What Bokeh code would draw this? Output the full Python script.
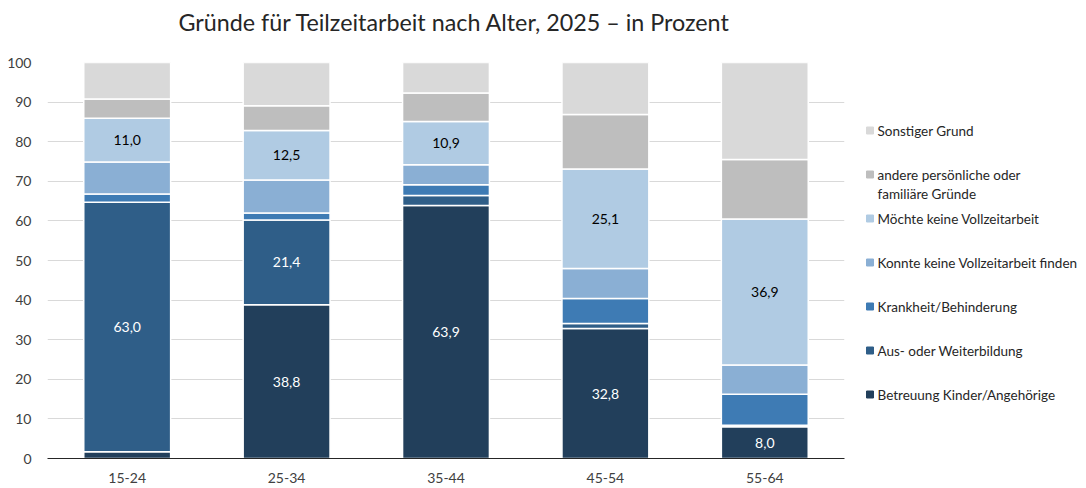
from bokeh.plotting import figure
from bokeh.models import ColumnDataSource, Range1d, FactorRange, FixedTicker, Title
from bokeh.layouts import row
from bokeh.embed import file_html
from bokeh.resources import INLINE
from bokeh.core.properties import value

title = "Gründe für Teilzeitarbeit nach Alter, 2025 – in Prozent"
ages = ["15-24", "25-34", "35-44", "45-54", "55-64"]

# stacked from bottom to top
series_names = [
    "Betreuung Kinder/Angehörige",
    "Aus- oder Weiterbildung",
    "Krankheit/Behinderung",
    "Konnte keine Vollzeitarbeit finden",
    "Möchte keine Vollzeitarbeit",
    "andere persönliche oder\nfamiliäre Gründe",
    "Sonstiger Grund",
]
betreuung = [1.7, 38.8, 63.9, 32.8, 8.0]
ausbildung = [63.0, 21.4, 2.5, 1.3, 0.4]
krankheit = [2.1, 1.8, 2.7, 6.3, 7.8]
konnte = [8.1, 8.3, 5.1, 7.6, 7.4]
moechte = [11.0, 12.5, 10.9, 25.1, 36.9]
andere = [4.9, 6.3, 7.2, 13.8, 15.0]
sonstiger = [9.2, 10.9, 7.7, 13.1, 24.5]

colors = ["#223f5b", "#2f5e88", "#3e7bb4", "#8aafd4", "#b0cbe3", "#bebebe", "#d9d9d9"]
label_series = [0, 1, 4]  # series with data labels (where segment large enough)
label_colors = ["white", "white", "white", "black", "black", "black", "black"]
y_ticks = [0, 10, 20, 30, 40, 50, 60, 70, 80, 90, 100]

FONT = "Lato"
series = [betreuung, ausbildung, krankheit, konnte, moechte, andere, sonstiger]
keys = ["s%d" % i for i in range(len(series))]
data = {"age": ages}
for k, s in zip(keys, series):
    data[k] = s
source = ColumnDataSource(data)

BORDER_TOP = 62
BORDER_BOTTOM = 28
BORDER_LEFT = 47
H = 486
W = 852

p = figure(
    x_range=FactorRange(*ages, range_padding=0),
    y_range=Range1d(0, 100),
    width=W, height=H,
    output_backend="svg", toolbar_location=None,
    min_border_left=BORDER_LEFT, min_border_right=8, min_border_top=BORDER_TOP,
    min_border_bottom=BORDER_BOTTOM,
    title=None,
)
# empty spacer panel between frame and title
p.add_layout(Title(text=" ", text_font_size="2px", standoff=23), "above")
p.add_layout(Title(text=title, text_font=FONT, text_font_size="23.3px",
                   text_font_style="normal", text_color="#262626",
                   align="left", offset=131, standoff=0), "above")
p.outline_line_color = None
p.background_fill_color = "white"

p.vbar_stack(keys, x="age", width=0.545, color=colors, source=source,
             line_color="white", line_width=1.5)

# data labels
lx, ly, lt, lc = [], [], [], []
for i, s in enumerate(series):
    base = [sum(series[j][k] for j in range(i)) for k in range(len(ages))]
    if i in label_series:
        for k, v in enumerate(s):
            if v >= 8:
                lx.append(ages[k])
                ly.append(base[k] + v / 2)
                lt.append(("%.1f" % v).replace(".", ","))
                lc.append(label_colors[i])
p.text(x=lx, y=ly, text=lt, text_color=lc, text_align="center", text_baseline="middle",
       text_font=value(FONT), text_font_size="14px")

p.ygrid.grid_line_color = "#d9d9d9"
p.ygrid.grid_line_width = 1
p.xgrid.grid_line_color = None
p.yaxis.ticker = FixedTicker(ticks=y_ticks)
p.yaxis.axis_line_color = None
p.yaxis.major_tick_line_color = None
p.yaxis.minor_tick_line_color = None
p.yaxis.major_label_standoff = 10
p.xaxis.axis_line_color = "#262626"
p.xaxis.axis_line_width = 1
p.xaxis.major_tick_line_color = None
p.xaxis.major_label_standoff = 8
for ax in (p.xaxis, p.yaxis):
    ax.major_label_text_font = FONT
    ax.major_label_text_font_size = "14px"
    ax.major_label_text_color = "#404040"

# legend panel: its frame is aligned with the main frame by the row layout,
# so its y range spans the same pixel rows as the main frame (top -> bottom)
frame_top = BORDER_TOP + 1
frame_bottom = H - BORDER_BOTTOM + 1
lg = figure(width=230, height=H, x_range=Range1d(0, 230),
            y_range=Range1d(frame_bottom, frame_top),
            output_backend="svg", toolbar_location=None,
            min_border_left=0, min_border_right=0,
            min_border_top=BORDER_TOP, min_border_bottom=BORDER_BOTTOM)
lg.axis.visible = False
lg.grid.visible = False
lg.outline_line_color = None
order = list(range(len(series_names)))[::-1]
mx, my, mc, tx, ty, tt = [], [], [], [], [], []
for n, i in enumerate(order):
    y0 = 131 + 44 * n
    mx.append(17.5)
    my.append(y0)
    mc.append(colors[i])
    for li, line in enumerate(series_names[i].split("\n")):
        tx.append(25)
        ty.append(y0 + 19 * li)
        tt.append(line)
lg.scatter(x=mx, y=my, marker="square", size=7, color=mc)
lg.text(x=tx, y=ty, text=tt, text_baseline="middle", text_align="left",
        text_font=value(FONT), text_font_size="13.5px", text_color="#262626")

layout = row(p, lg, spacing=0)
open("out.html", "w").write(file_html(layout, INLINE))
